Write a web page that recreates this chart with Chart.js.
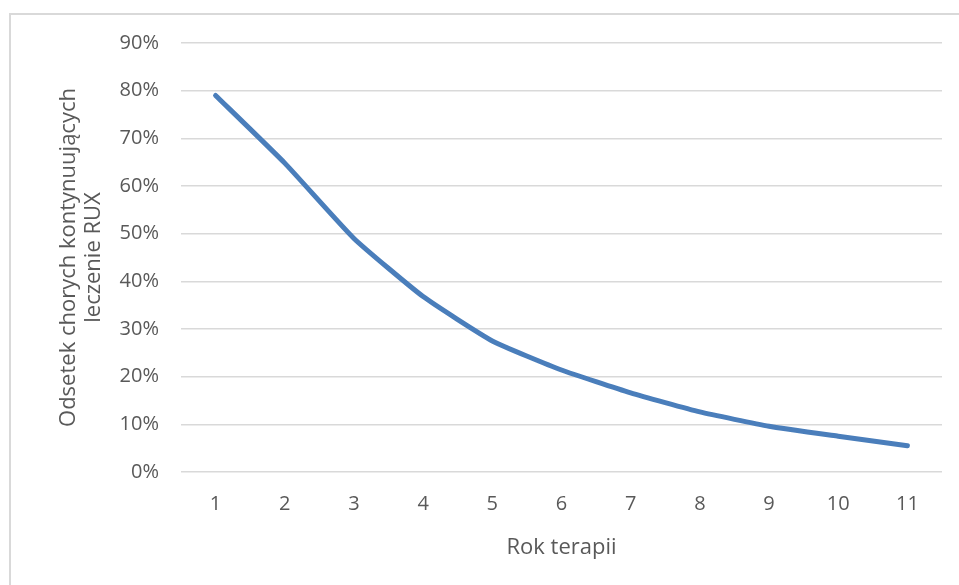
<!DOCTYPE html>
<html>
<head>
<meta charset="utf-8">
<script src="https://cdn.jsdelivr.net/npm/chart.js@4.4.0/dist/chart.umd.min.js"></script>
<style>
  html, body { margin: 0; padding: 0; background: #fff; overflow: hidden; }
  #frame {
    position: absolute; left: 9px; top: 13px; width: 980px; height: 620px;
    border: 2px solid #d9d9d9; box-sizing: border-box;
  }
  #wrap { position: absolute; left: 0; top: 0; width: 959px; height: 585px; }
</style>
</head>
<body>
<div id="frame"></div>
<div id="wrap"><canvas id="chart"></canvas></div>
<script>
// Data
const years = ['1', '2', '3', '4', '5', '6', '7', '8', '9', '10', '11'];
const continuing = [0.79, 0.648, 0.49, 0.368, 0.275, 0.214, 0.166, 0.126, 0.096, 0.075, 0.055];
const yTicks = [0, 0.1, 0.2, 0.3, 0.4, 0.5, 0.6, 0.7, 0.8, 0.9];

const FONT = "'Open Sans', 'Liberation Sans', sans-serif";
const TEXT = '#595959';
const GRID = '#d9d9d9';
const LINE = '#4a7ebb';

new Chart(document.getElementById('chart'), {
  type: 'line',
  data: {
    labels: years,
    datasets: [{
      data: continuing,
      borderColor: LINE,
      borderWidth: 5,
      tension: 0.15,
      pointRadius: 0,
      borderCapStyle: 'round',
      borderJoinStyle: 'round',
      fill: false,
    }],
  },
  options: {
    responsive: true,
    maintainAspectRatio: false,
    animation: false,
    layout: { padding: { left: 0, top: 43, right: 17, bottom: 0 } },
    plugins: { legend: { display: false }, tooltip: { enabled: false } },
    scales: {
      x: {
        offset: true,
        grid: { display: false, drawTicks: false },
        border: { display: false },
        ticks: { color: TEXT, font: { family: FONT, size: 20 }, padding: 20, maxRotation: 0 },
        title: {
          display: true, text: 'Rok terapii', color: TEXT,
          font: { family: FONT, size: 22 }, padding: { top: 0, bottom: 24 },
        },
        afterFit: scale => { scale.height = 113; },
      },
      y: {
        min: 0, max: 0.9,
        afterBuildTicks: scale => { scale.ticks = yTicks.map(v => ({ value: v })); },
        grid: { color: GRID, lineWidth: 1.6, drawTicks: false },
        border: { display: false },
        ticks: {
          color: TEXT, font: { family: FONT, size: 20 }, padding: 22,
          callback: v => Math.round(v * 100) + '%',
        },
        title: {
          display: true, text: ['Odsetek chorych kontynuujących', 'leczenie RUX'], color: TEXT,
          font: { family: FONT, size: 22, lineHeight: 1.1 }, padding: { top: 57, bottom: 0 },
        },
        // fixed width so the plot area starts where the reference's does
        afterFit: scale => { scale.width = 181; },
      },
    },
  },
});
</script>
</body>
</html>
